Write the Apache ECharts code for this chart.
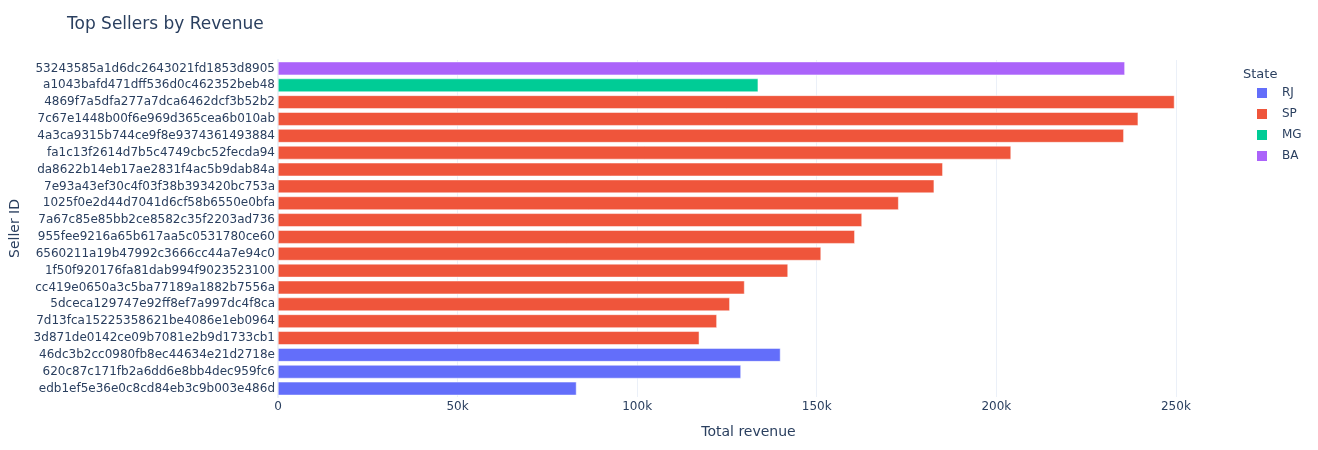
<!DOCTYPE html>
<html>
<head>
<meta charset="utf-8">
<script src="https://cdn.jsdelivr.net/npm/echarts@6/dist/echarts.min.js"></script>
<style>
html, body { margin: 0; padding: 0; background: #fff; }
#main { width: 1318px; height: 450px; }
</style>
</head>
<body>
<div id="main"></div>
<script>
// sellers, listed top to bottom as in the chart
var sellers = [
    '53243585a1d6dc2643021fd1853d8905',
    'a1043bafd471dff536d0c462352beb48',
    '4869f7a5dfa277a7dca6462dcf3b52b2',
    '7c67e1448b00f6e969d365cea6b010ab',
    '4a3ca9315b744ce9f8e9374361493884',
    'fa1c13f2614d7b5c4749cbc52fecda94',
    'da8622b14eb17ae2831f4ac5b9dab84a',
    '7e93a43ef30c4f03f38b393420bc753a',
    '1025f0e2d44d7041d6cf58b6550e0bfa',
    '7a67c85e85bb2ce8582c35f2203ad736',
    '955fee9216a65b617aa5c0531780ce60',
    '6560211a19b47992c3666cc44a7e94c0',
    '1f50f920176fa81dab994f9023523100',
    'cc419e0650a3c5ba77189a1882b7556a',
    '5dceca129747e92ff8ef7a997dc4f8ca',
    '7d13fca15225358621be4086e1eb0964',
    '3d871de0142ce09b7081e2b9d1733cb1',
    '46dc3b2cc0980fb8ec44634e21d2718e',
    '620c87c171fb2a6dd6e8bb4dec959fc6',
    'edb1ef5e36e0c8cd84eb3c9b003e486d'
];
var revenue = [235800, 133700, 249600, 239500, 235500, 204100, 185100, 182700, 172800, 162600,
               160600, 151200, 142000, 129900, 125800, 122200, 117300, 139900, 128900, 83100];
var sellerState = ['BA', 'MG', 'SP', 'SP', 'SP', 'SP', 'SP', 'SP', 'SP', 'SP',
                   'SP', 'SP', 'SP', 'SP', 'SP', 'SP', 'SP', 'RJ', 'RJ', 'RJ'];
var states = ['RJ', 'SP', 'MG', 'BA'];
var stateColors = ['#636efa', '#EF553B', '#00cc96', '#ab63fa'];

var txt = '#2a3f5f';
var font = '"DejaVu Sans", Verdana, sans-serif';

var series = states.map(function(st, i) {
    return {
        name: st,
        type: 'bar',
        stack: 'total',
        barWidth: '80%',
        itemStyle: { color: stateColors[i], borderColor: '#fff', borderWidth: 0.5 },
        data: revenue.map(function(v, j) { return sellerState[j] === st ? v : null; })
    };
});

var myChart = echarts.init(document.getElementById('main'));
var option = {
    animation: false,
    textStyle: { fontFamily: font },
    color: stateColors,
    title: [{
        text: 'Top Sellers by Revenue',
        left: 62,
        top: 11,
        textStyle: { color: txt, fontSize: 17, fontWeight: 'normal', fontFamily: font }
    }, {
        text: 'State',
        left: 1238,
        top: 63,
        textStyle: { color: txt, fontSize: 13, fontWeight: 'normal', fontFamily: font }
    }],
    legend: {
        orient: 'vertical',
        left: 1250,
        top: 81,
        itemWidth: 12,
        itemHeight: 12,
        itemGap: 7,
        icon: 'rect',
        data: states,
        textStyle: { color: txt, fontSize: 12, padding: [0, 0, 0, 9], fontFamily: font }
    },
    grid: { left: 277, right: 99, top: 60, bottom: 53, containLabel: false },
    xAxis: {
        type: 'value',
        min: 0,
        max: 262000,
        interval: 50000,
        name: 'Total revenue',
        nameLocation: 'middle',
        nameGap: 28,
        nameTextStyle: { color: txt, fontSize: 14, fontFamily: font },
        axisLine: { show: false },
        axisTick: { show: false },
        splitLine: { showMaxLine: false, lineStyle: { color: '#EBF0F8', width: 1 } },
        axisLabel: {
            color: txt,
            fontSize: 12,
            margin: 4,
            showMaxLabel: false,
            formatter: function(v) { return v === 0 ? '0' : (v / 1000) + 'k'; }
        }
    },
    yAxis: {
        type: 'category',
        inverse: true,
        data: sellers,
        name: 'Seller ID',
        nameLocation: 'middle',
        nameGap: 256,
        nameRotate: 90,
        nameTextStyle: { color: txt, fontSize: 14, fontFamily: font },
        axisLine: { show: true, lineStyle: { color: '#EBF0F8', width: 2 } },
        axisTick: { show: false },
        axisLabel: { color: txt, fontSize: 12, margin: 3 }
    },
    series: series
};
myChart.setOption(option);
</script>
</body>
</html>
